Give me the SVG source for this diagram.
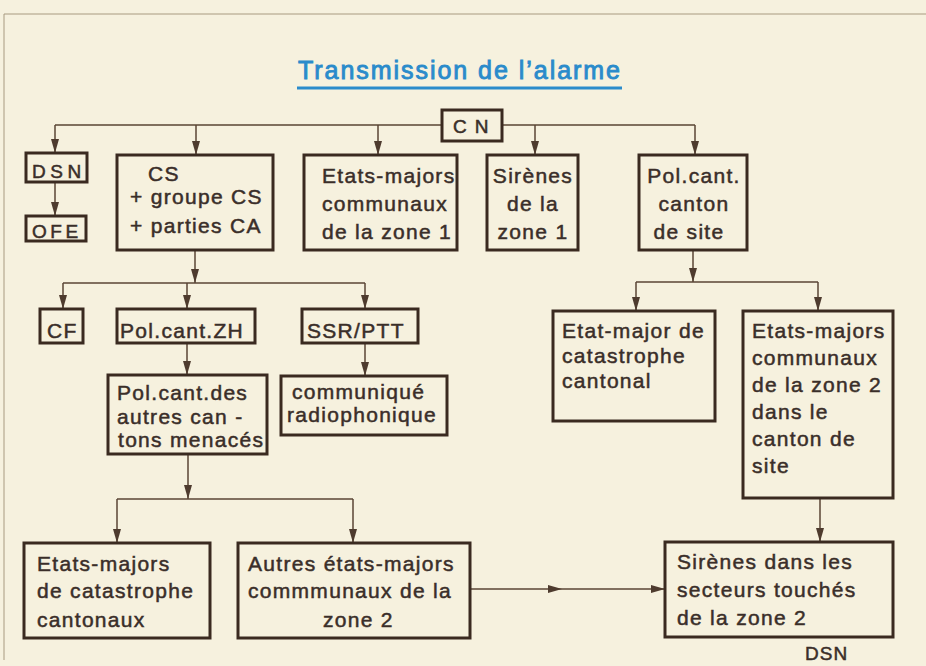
<svg xmlns="http://www.w3.org/2000/svg" width="926" height="666" viewBox="0 0 926 666">
<defs>
<marker id="ah" markerUnits="userSpaceOnUse" markerWidth="14" markerHeight="8" viewBox="0 0 14 8" refX="14" refY="4" orient="auto">
<path d="M0,0 L14,4 L0,8 z" fill="#4e3b2e"/>
</marker>
<style>
.box{fill:none;stroke:#3a2a20;stroke-width:3}
.ln{fill:none;stroke:#5a4535;stroke-width:1.5}
.a{marker-end:url(#ah)}
text{font-family:"Liberation Sans",Arial,sans-serif;fill:#3a2e29;stroke:#3a2e29;stroke-width:0.5}
.t{font-size:21px;letter-spacing:1.3px}
.s{font-size:19px}
.m{text-anchor:middle}
</style>
</defs>
<rect width="926" height="666" fill="#f6f1de"/>
<path d="M4,660 V14 H926" fill="none" stroke="#a89a80" stroke-width="1"/>

<g id="title">
<text x="298" y="79" font-size="25" textLength="322" lengthAdjust="spacing" style="fill:#2a8bcb;stroke:#2a8bcb;stroke-width:0.9">Transmission de l’alarme</text>
<rect x="297" y="86.5" width="325" height="3" fill="#2a8bcb"/>
</g>

<g id="connectors">
<path class="ln" d="M55,125 H442 M502,125 H695"/>
<path class="ln a" d="M55,125 V153"/>
<path class="ln a" d="M196,125 V155"/>
<path class="ln a" d="M378,125 V155"/>
<path class="ln a" d="M535,125 V155"/>
<path class="ln a" d="M695,125 V155"/>
<path class="ln a" d="M55,182 V216"/>
<path class="ln a" d="M195,250 V283"/>
<path class="ln" d="M63,283 H365"/>
<path class="ln a" d="M63,283 V309"/>
<path class="ln a" d="M187,283 V309"/>
<path class="ln a" d="M365,283 V309"/>
<path class="ln a" d="M187,343 V375"/>
<path class="ln a" d="M365,343 V376"/>
<path class="ln a" d="M188,454 V499"/>
<path class="ln" d="M117,499 H353"/>
<path class="ln a" d="M117,499 V543"/>
<path class="ln a" d="M353,499 V543"/>
<path class="ln a" d="M693,250 V282"/>
<path class="ln" d="M636,282 H818"/>
<path class="ln a" d="M636,282 V311"/>
<path class="ln a" d="M818,282 V311"/>
<path class="ln a" d="M820,498 V542"/>
<path class="ln a" d="M470,589 L562,589 L665,589" marker-mid="url(#ah)"/>
</g>

<g id="cn">
<rect class="box" x="442" y="110" width="60" height="31"/>
<text class="s" x="453" y="133" letter-spacing="8">CN</text>
</g>
<g id="dsn">
<rect class="box" x="26" y="153" width="61" height="29"/>
<text class="s" x="32" y="178" letter-spacing="4.5">DSN</text>
</g>
<g id="ofe">
<rect class="box" x="26" y="216" width="60" height="25"/>
<text class="s" x="32" y="238" letter-spacing="3.5">OFE</text>
</g>
<g id="cs">
<rect class="box" x="117" y="155" width="156" height="95"/>
<text class="t" x="148" y="181">CS</text>
<text class="t" x="130" y="204">+ groupe CS</text>
<text class="t" x="130" y="233">+ parties CA</text>
</g>
<g id="em-communaux-zone1">
<rect class="box" x="304" y="155" width="153" height="95"/>
<text class="t" x="322" y="183">Etats-majors</text>
<text class="t" x="322" y="211">communaux</text>
<text class="t" x="322" y="239">de la zone 1</text>
</g>
<g id="sirenes-zone1">
<rect class="box" x="487" y="155" width="91" height="95"/>
<text class="t m" x="533" y="183">Sirènes</text>
<text class="t m" x="533" y="211">de la</text>
<text class="t m" x="533" y="239">zone 1</text>
</g>
<g id="polcant-site">
<rect class="box" x="639" y="155" width="108" height="95"/>
<text class="t m" x="694" y="183" letter-spacing="1.8">Pol.cant.</text>
<text class="t m" x="694" y="211">canton</text>
<text class="t m" x="689" y="239">de site</text>
</g>
<g id="cf">
<rect class="box" x="40" y="309" width="43" height="34"/>
<text class="t" x="47" y="338" letter-spacing="4">CF</text>
</g>
<g id="polcant-zh">
<rect class="box" x="117" y="309" width="138" height="34"/>
<text class="t" x="120" y="338" letter-spacing="2.2">Pol.cant.ZH</text>
</g>
<g id="ssr-ptt">
<rect class="box" x="302" y="309" width="116" height="34"/>
<text class="t" x="307" y="338" letter-spacing="3">SSR/PTT</text>
</g>
<g id="polcant-autres">
<rect class="box" x="108" y="375" width="159" height="79"/>
<text class="t" x="117" y="400">Pol.cant.des</text>
<text class="t" x="117" y="424">autres can -</text>
<text class="t" x="118" y="447">tons menacés</text>
</g>
<g id="communique">
<rect class="box" x="281" y="376" width="166" height="59"/>
<text class="t" x="292" y="399">communiqué</text>
<text class="t" x="287" y="422">radiophonique</text>
</g>
<g id="em-catastrophe-cantonal">
<rect class="box" x="553" y="311" width="162" height="110"/>
<text class="t" x="562" y="338">Etat-major de</text>
<text class="t" x="562" y="363">catastrophe</text>
<text class="t" x="562" y="388">cantonal</text>
</g>
<g id="em-communaux-zone2">
<rect class="box" x="743" y="311" width="150" height="187"/>
<text class="t" x="752" y="338">Etats-majors</text>
<text class="t" x="752" y="365">communaux</text>
<text class="t" x="752" y="392">de la zone 2</text>
<text class="t" x="752" y="419">dans le</text>
<text class="t" x="752" y="446">canton de</text>
<text class="t" x="752" y="473">site</text>
</g>
<g id="em-catastrophe-cantonaux">
<rect class="box" x="24" y="543" width="186" height="95"/>
<text class="t" x="37" y="571">Etats-majors</text>
<text class="t" x="37" y="598">de catastrophe</text>
<text class="t" x="37" y="627">cantonaux</text>
</g>
<g id="autres-em">
<rect class="box" x="238" y="543" width="232" height="95"/>
<text class="t" x="248" y="571">Autres états-majors</text>
<text class="t" x="248" y="598">commmunaux de la</text>
<text class="t" x="323" y="627">zone 2</text>
</g>
<g id="sirenes-zone2">
<rect class="box" x="665" y="542" width="228" height="95"/>
<text class="t" x="677" y="569">Sirènes dans les</text>
<text class="t" x="677" y="597">secteurs touchés</text>
<text class="t" x="677" y="625">de la zone 2</text>
</g>
<g id="dsn-label">
<text class="s" x="805" y="660" letter-spacing="1">DSN</text>
</g>
</svg>
